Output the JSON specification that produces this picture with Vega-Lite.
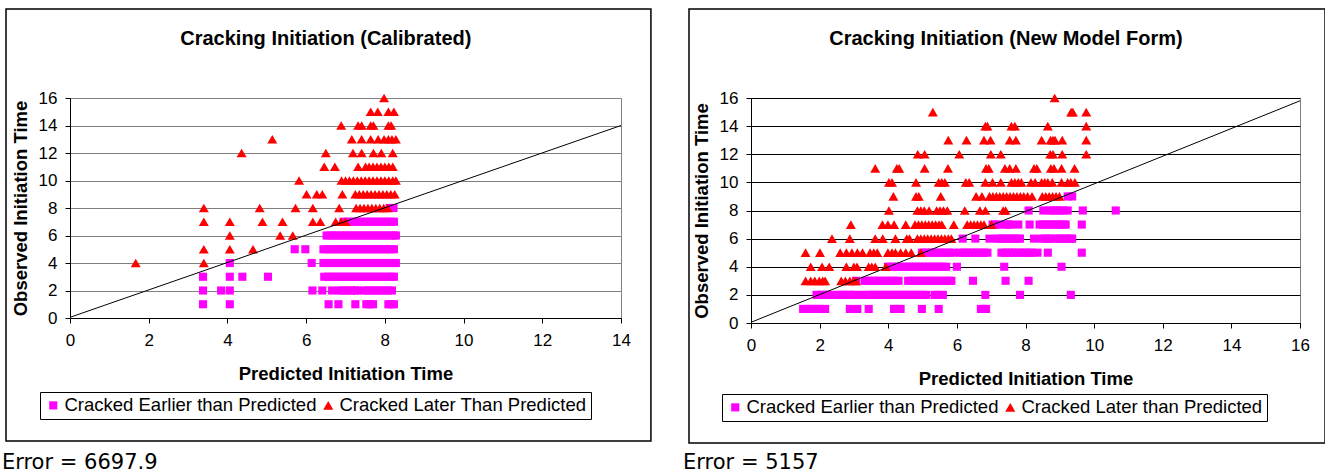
{
  "$schema": "https://vega.github.io/schema/vega-lite/v6.json",
  "padding": {"left": 1, "top": 7, "right": 0, "bottom": 0},
  "background": "white",
  "spacing": 29,
  "datasets": {
    "cal": [
      {"p":8.12,"o":8,"s":"Earlier"},{"p":8.22,"o":8,"s":"Earlier"},
      {"p":6.95,"o":7,"s":"Earlier"},{"p":7.05,"o":7,"s":"Earlier"},{"p":7.15,"o":7,"s":"Earlier"},{"p":7.25,"o":7,"s":"Earlier"},{"p":7.35,"o":7,"s":"Earlier"},{"p":7.45,"o":7,"s":"Earlier"},{"p":7.55,"o":7,"s":"Earlier"},{"p":7.65,"o":7,"s":"Earlier"},{"p":7.75,"o":7,"s":"Earlier"},{"p":7.85,"o":7,"s":"Earlier"},{"p":7.95,"o":7,"s":"Earlier"},{"p":8.05,"o":7,"s":"Earlier"},{"p":8.15,"o":7,"s":"Earlier"},{"p":8.23,"o":7,"s":"Earlier"},
      {"p":6.52,"o":6,"s":"Earlier"},{"p":6.62,"o":6,"s":"Earlier"},{"p":6.72,"o":6,"s":"Earlier"},{"p":6.82,"o":6,"s":"Earlier"},{"p":6.92,"o":6,"s":"Earlier"},{"p":7.02,"o":6,"s":"Earlier"},{"p":7.12,"o":6,"s":"Earlier"},{"p":7.22,"o":6,"s":"Earlier"},{"p":7.32,"o":6,"s":"Earlier"},{"p":7.42,"o":6,"s":"Earlier"},{"p":7.52,"o":6,"s":"Earlier"},{"p":7.62,"o":6,"s":"Earlier"},{"p":7.72,"o":6,"s":"Earlier"},{"p":7.82,"o":6,"s":"Earlier"},{"p":7.92,"o":6,"s":"Earlier"},{"p":8.02,"o":6,"s":"Earlier"},{"p":8.12,"o":6,"s":"Earlier"},{"p":8.22,"o":6,"s":"Earlier"},{"p":8.28,"o":6,"s":"Earlier"},
      {"p":5.71,"o":5,"s":"Earlier"},{"p":5.98,"o":5,"s":"Earlier"},{"p":6.44,"o":5,"s":"Earlier"},{"p":6.54,"o":5,"s":"Earlier"},{"p":6.64,"o":5,"s":"Earlier"},{"p":6.74,"o":5,"s":"Earlier"},{"p":6.84,"o":5,"s":"Earlier"},{"p":6.94,"o":5,"s":"Earlier"},{"p":7.04,"o":5,"s":"Earlier"},{"p":7.14,"o":5,"s":"Earlier"},{"p":7.24,"o":5,"s":"Earlier"},{"p":7.34,"o":5,"s":"Earlier"},{"p":7.44,"o":5,"s":"Earlier"},{"p":7.54,"o":5,"s":"Earlier"},{"p":7.64,"o":5,"s":"Earlier"},{"p":7.74,"o":5,"s":"Earlier"},{"p":7.84,"o":5,"s":"Earlier"},{"p":7.94,"o":5,"s":"Earlier"},{"p":8.04,"o":5,"s":"Earlier"},{"p":8.14,"o":5,"s":"Earlier"},{"p":8.23,"o":5,"s":"Earlier"},
      {"p":4.06,"o":4,"s":"Earlier"},{"p":6.14,"o":4,"s":"Earlier"},{"p":6.44,"o":4,"s":"Earlier"},{"p":6.54,"o":4,"s":"Earlier"},{"p":6.64,"o":4,"s":"Earlier"},{"p":6.74,"o":4,"s":"Earlier"},{"p":6.84,"o":4,"s":"Earlier"},{"p":6.94,"o":4,"s":"Earlier"},{"p":7.04,"o":4,"s":"Earlier"},{"p":7.14,"o":4,"s":"Earlier"},{"p":7.24,"o":4,"s":"Earlier"},{"p":7.34,"o":4,"s":"Earlier"},{"p":7.44,"o":4,"s":"Earlier"},{"p":7.54,"o":4,"s":"Earlier"},{"p":7.64,"o":4,"s":"Earlier"},{"p":7.74,"o":4,"s":"Earlier"},{"p":7.84,"o":4,"s":"Earlier"},{"p":7.94,"o":4,"s":"Earlier"},{"p":8.04,"o":4,"s":"Earlier"},{"p":8.14,"o":4,"s":"Earlier"},{"p":8.24,"o":4,"s":"Earlier"},{"p":8.28,"o":4,"s":"Earlier"},
      {"p":3.38,"o":3,"s":"Earlier"},{"p":4.06,"o":3,"s":"Earlier"},{"p":4.38,"o":3,"s":"Earlier"},{"p":5.03,"o":3,"s":"Earlier"},{"p":6.46,"o":3,"s":"Earlier"},{"p":6.56,"o":3,"s":"Earlier"},{"p":6.66,"o":3,"s":"Earlier"},{"p":6.76,"o":3,"s":"Earlier"},{"p":6.86,"o":3,"s":"Earlier"},{"p":6.96,"o":3,"s":"Earlier"},{"p":7.06,"o":3,"s":"Earlier"},{"p":7.16,"o":3,"s":"Earlier"},{"p":7.26,"o":3,"s":"Earlier"},{"p":7.36,"o":3,"s":"Earlier"},{"p":7.46,"o":3,"s":"Earlier"},{"p":7.56,"o":3,"s":"Earlier"},{"p":7.66,"o":3,"s":"Earlier"},{"p":7.76,"o":3,"s":"Earlier"},{"p":7.86,"o":3,"s":"Earlier"},{"p":7.96,"o":3,"s":"Earlier"},{"p":8.06,"o":3,"s":"Earlier"},{"p":8.16,"o":3,"s":"Earlier"},{"p":8.23,"o":3,"s":"Earlier"},
      {"p":3.38,"o":2,"s":"Earlier"},{"p":3.84,"o":2,"s":"Earlier"},{"p":4.06,"o":2,"s":"Earlier"},{"p":6.16,"o":2,"s":"Earlier"},{"p":6.41,"o":2,"s":"Earlier"},{"p":6.66,"o":2,"s":"Earlier"},{"p":6.84,"o":2,"s":"Earlier"},{"p":6.94,"o":2,"s":"Earlier"},{"p":7.04,"o":2,"s":"Earlier"},{"p":7.14,"o":2,"s":"Earlier"},{"p":7.24,"o":2,"s":"Earlier"},{"p":7.30,"o":2,"s":"Earlier"},{"p":7.48,"o":2,"s":"Earlier"},{"p":7.58,"o":2,"s":"Earlier"},{"p":7.68,"o":2,"s":"Earlier"},{"p":7.78,"o":2,"s":"Earlier"},{"p":7.88,"o":2,"s":"Earlier"},{"p":7.98,"o":2,"s":"Earlier"},{"p":8.08,"o":2,"s":"Earlier"},{"p":8.18,"o":2,"s":"Earlier"},
      {"p":3.38,"o":1,"s":"Earlier"},{"p":4.06,"o":1,"s":"Earlier"},{"p":6.57,"o":1,"s":"Earlier"},{"p":6.82,"o":1,"s":"Earlier"},{"p":7.25,"o":1,"s":"Earlier"},{"p":7.53,"o":1,"s":"Earlier"},{"p":7.62,"o":1,"s":"Earlier"},{"p":7.70,"o":1,"s":"Earlier"},{"p":8.09,"o":1,"s":"Earlier"},{"p":8.16,"o":1,"s":"Earlier"},{"p":8.23,"o":1,"s":"Earlier"},
      {"p":7.98,"o":16,"s":"Later"},
      {"p":7.64,"o":15,"s":"Later"},{"p":7.82,"o":15,"s":"Later"},{"p":8.09,"o":15,"s":"Later"},{"p":8.23,"o":15,"s":"Later"},
      {"p":6.89,"o":14,"s":"Later"},{"p":7.32,"o":14,"s":"Later"},{"p":7.41,"o":14,"s":"Later"},{"p":7.64,"o":14,"s":"Later"},{"p":7.71,"o":14,"s":"Later"},{"p":8.09,"o":14,"s":"Later"},{"p":8.16,"o":14,"s":"Later"},
      {"p":5.14,"o":13,"s":"Later"},{"p":7.16,"o":13,"s":"Later"},{"p":7.41,"o":13,"s":"Later"},{"p":7.64,"o":13,"s":"Later"},{"p":7.83,"o":13,"s":"Later"},{"p":7.98,"o":13,"s":"Later"},{"p":8.09,"o":13,"s":"Later"},{"p":8.18,"o":13,"s":"Later"},{"p":8.28,"o":13,"s":"Later"},
      {"p":4.36,"o":12,"s":"Later"},{"p":6.50,"o":12,"s":"Later"},{"p":7.19,"o":12,"s":"Later"},{"p":7.41,"o":12,"s":"Later"},{"p":7.71,"o":12,"s":"Later"},{"p":7.91,"o":12,"s":"Later"},{"p":8.2,"o":12,"s":"Later"},
      {"p":6.46,"o":11,"s":"Later"},{"p":6.73,"o":11,"s":"Later"},{"p":7.32,"o":11,"s":"Later"},{"p":7.51,"o":11,"s":"Later"},{"p":7.6,"o":11,"s":"Later"},{"p":7.7,"o":11,"s":"Later"},{"p":7.8,"o":11,"s":"Later"},{"p":7.9,"o":11,"s":"Later"},{"p":8.0,"o":11,"s":"Later"},{"p":8.1,"o":11,"s":"Later"},{"p":8.2,"o":11,"s":"Later"},
      {"p":5.82,"o":10,"s":"Later"},{"p":6.9,"o":10,"s":"Later"},{"p":7.0,"o":10,"s":"Later"},{"p":7.1,"o":10,"s":"Later"},{"p":7.2,"o":10,"s":"Later"},{"p":7.3,"o":10,"s":"Later"},{"p":7.4,"o":10,"s":"Later"},{"p":7.5,"o":10,"s":"Later"},{"p":7.6,"o":10,"s":"Later"},{"p":7.7,"o":10,"s":"Later"},{"p":7.8,"o":10,"s":"Later"},{"p":7.9,"o":10,"s":"Later"},{"p":8.0,"o":10,"s":"Later"},{"p":8.1,"o":10,"s":"Later"},{"p":8.2,"o":10,"s":"Later"},{"p":8.28,"o":10,"s":"Later"},
      {"p":6.01,"o":9,"s":"Later"},{"p":6.27,"o":9,"s":"Later"},{"p":6.41,"o":9,"s":"Later"},{"p":6.92,"o":9,"s":"Later"},{"p":7.25,"o":9,"s":"Later"},{"p":7.35,"o":9,"s":"Later"},{"p":7.45,"o":9,"s":"Later"},{"p":7.55,"o":9,"s":"Later"},{"p":7.65,"o":9,"s":"Later"},{"p":7.75,"o":9,"s":"Later"},{"p":7.85,"o":9,"s":"Later"},{"p":7.95,"o":9,"s":"Later"},{"p":8.05,"o":9,"s":"Later"},{"p":8.15,"o":9,"s":"Later"},{"p":8.25,"o":9,"s":"Later"},
      {"p":3.40,"o":8,"s":"Later"},{"p":4.82,"o":8,"s":"Later"},{"p":5.73,"o":8,"s":"Later"},{"p":6.17,"o":8,"s":"Later"},{"p":6.84,"o":8,"s":"Later"},{"p":7.27,"o":8,"s":"Later"},{"p":7.37,"o":8,"s":"Later"},{"p":7.47,"o":8,"s":"Later"},{"p":7.57,"o":8,"s":"Later"},{"p":7.67,"o":8,"s":"Later"},{"p":7.77,"o":8,"s":"Later"},{"p":7.87,"o":8,"s":"Later"},{"p":7.97,"o":8,"s":"Later"},{"p":8.07,"o":8,"s":"Later"},
      {"p":3.40,"o":7,"s":"Later"},{"p":4.06,"o":7,"s":"Later"},{"p":4.89,"o":7,"s":"Later"},{"p":5.40,"o":7,"s":"Later"},{"p":6.17,"o":7,"s":"Later"},{"p":6.36,"o":7,"s":"Later"},{"p":6.75,"o":7,"s":"Later"},{"p":6.89,"o":7,"s":"Later"},{"p":7.0,"o":7,"s":"Later"},
      {"p":4.06,"o":6,"s":"Later"},{"p":5.34,"o":6,"s":"Later"},{"p":5.66,"o":6,"s":"Later"},
      {"p":3.40,"o":5,"s":"Later"},{"p":4.06,"o":5,"s":"Later"},{"p":4.65,"o":5,"s":"Later"},
      {"p":1.67,"o":4,"s":"Later"},{"p":3.40,"o":4,"s":"Later"}
    ],
    "nmf": [
      {"p":9.23,"o":9,"s":"Earlier"},{"p":9.36,"o":9,"s":"Earlier"},
      {"p":8.09,"o":8,"s":"Earlier"},{"p":8.52,"o":8,"s":"Earlier"},{"p":8.70,"o":8,"s":"Earlier"},{"p":8.80,"o":8,"s":"Earlier"},{"p":8.90,"o":8,"s":"Earlier"},{"p":9.00,"o":8,"s":"Earlier"},{"p":9.10,"o":8,"s":"Earlier"},{"p":9.23,"o":8,"s":"Earlier"},{"p":9.67,"o":8,"s":"Earlier"},{"p":10.63,"o":8,"s":"Earlier"},
      {"p":7.04,"o":7,"s":"Earlier"},{"p":7.12,"o":7,"s":"Earlier"},{"p":7.20,"o":7,"s":"Earlier"},{"p":7.42,"o":7,"s":"Earlier"},{"p":7.50,"o":7,"s":"Earlier"},{"p":7.57,"o":7,"s":"Earlier"},{"p":7.79,"o":7,"s":"Earlier"},{"p":8.12,"o":7,"s":"Earlier"},{"p":8.41,"o":7,"s":"Earlier"},{"p":8.51,"o":7,"s":"Earlier"},{"p":8.61,"o":7,"s":"Earlier"},{"p":8.71,"o":7,"s":"Earlier"},{"p":8.81,"o":7,"s":"Earlier"},{"p":8.91,"o":7,"s":"Earlier"},{"p":9.01,"o":7,"s":"Earlier"},{"p":9.11,"o":7,"s":"Earlier"},{"p":9.17,"o":7,"s":"Earlier"},{"p":9.64,"o":7,"s":"Earlier"},
      {"p":6.17,"o":6,"s":"Earlier"},{"p":6.54,"o":6,"s":"Earlier"},{"p":6.95,"o":6,"s":"Earlier"},{"p":7.16,"o":6,"s":"Earlier"},{"p":7.26,"o":6,"s":"Earlier"},{"p":7.36,"o":6,"s":"Earlier"},{"p":7.46,"o":6,"s":"Earlier"},{"p":7.56,"o":6,"s":"Earlier"},{"p":7.66,"o":6,"s":"Earlier"},{"p":7.76,"o":6,"s":"Earlier"},{"p":7.84,"o":6,"s":"Earlier"},{"p":8.25,"o":6,"s":"Earlier"},{"p":8.47,"o":6,"s":"Earlier"},{"p":8.57,"o":6,"s":"Earlier"},{"p":8.67,"o":6,"s":"Earlier"},{"p":8.74,"o":6,"s":"Earlier"},{"p":8.90,"o":6,"s":"Earlier"},{"p":9.00,"o":6,"s":"Earlier"},{"p":9.10,"o":6,"s":"Earlier"},{"p":9.20,"o":6,"s":"Earlier"},{"p":9.30,"o":6,"s":"Earlier"},{"p":9.36,"o":6,"s":"Earlier"},
      {"p":4.98,"o":5,"s":"Earlier"},{"p":5.08,"o":5,"s":"Earlier"},{"p":5.18,"o":5,"s":"Earlier"},{"p":5.28,"o":5,"s":"Earlier"},{"p":5.38,"o":5,"s":"Earlier"},{"p":5.48,"o":5,"s":"Earlier"},{"p":5.58,"o":5,"s":"Earlier"},{"p":5.68,"o":5,"s":"Earlier"},{"p":5.78,"o":5,"s":"Earlier"},{"p":5.90,"o":5,"s":"Earlier"},{"p":6.09,"o":5,"s":"Earlier"},{"p":6.19,"o":5,"s":"Earlier"},{"p":6.29,"o":5,"s":"Earlier"},{"p":6.39,"o":5,"s":"Earlier"},{"p":6.49,"o":5,"s":"Earlier"},{"p":6.59,"o":5,"s":"Earlier"},{"p":6.69,"o":5,"s":"Earlier"},{"p":6.79,"o":5,"s":"Earlier"},{"p":6.89,"o":5,"s":"Earlier"},{"p":7.30,"o":5,"s":"Earlier"},{"p":7.40,"o":5,"s":"Earlier"},{"p":7.50,"o":5,"s":"Earlier"},{"p":7.60,"o":5,"s":"Earlier"},{"p":7.67,"o":5,"s":"Earlier"},{"p":7.81,"o":5,"s":"Earlier"},{"p":7.91,"o":5,"s":"Earlier"},{"p":8.01,"o":5,"s":"Earlier"},{"p":8.11,"o":5,"s":"Earlier"},{"p":8.19,"o":5,"s":"Earlier"},{"p":8.35,"o":5,"s":"Earlier"},{"p":8.65,"o":5,"s":"Earlier"},{"p":9.64,"o":5,"s":"Earlier"},
      {"p":3.99,"o":4,"s":"Earlier"},{"p":4.09,"o":4,"s":"Earlier"},{"p":4.19,"o":4,"s":"Earlier"},{"p":4.29,"o":4,"s":"Earlier"},{"p":4.39,"o":4,"s":"Earlier"},{"p":4.49,"o":4,"s":"Earlier"},{"p":4.59,"o":4,"s":"Earlier"},{"p":4.69,"o":4,"s":"Earlier"},{"p":4.79,"o":4,"s":"Earlier"},{"p":4.89,"o":4,"s":"Earlier"},{"p":4.99,"o":4,"s":"Earlier"},{"p":5.09,"o":4,"s":"Earlier"},{"p":5.19,"o":4,"s":"Earlier"},{"p":5.29,"o":4,"s":"Earlier"},{"p":5.39,"o":4,"s":"Earlier"},{"p":5.49,"o":4,"s":"Earlier"},{"p":5.59,"o":4,"s":"Earlier"},{"p":5.69,"o":4,"s":"Earlier"},{"p":6.00,"o":4,"s":"Earlier"},{"p":7.38,"o":4,"s":"Earlier"},{"p":9.05,"o":4,"s":"Earlier"},
      {"p":3.06,"o":3,"s":"Earlier"},{"p":3.31,"o":3,"s":"Earlier"},{"p":3.41,"o":3,"s":"Earlier"},{"p":3.51,"o":3,"s":"Earlier"},{"p":3.61,"o":3,"s":"Earlier"},{"p":3.71,"o":3,"s":"Earlier"},{"p":3.81,"o":3,"s":"Earlier"},{"p":3.91,"o":3,"s":"Earlier"},{"p":4.01,"o":3,"s":"Earlier"},{"p":4.11,"o":3,"s":"Earlier"},{"p":4.21,"o":3,"s":"Earlier"},{"p":4.30,"o":3,"s":"Earlier"},{"p":4.58,"o":3,"s":"Earlier"},{"p":4.68,"o":3,"s":"Earlier"},{"p":4.78,"o":3,"s":"Earlier"},{"p":4.88,"o":3,"s":"Earlier"},{"p":4.98,"o":3,"s":"Earlier"},{"p":5.08,"o":3,"s":"Earlier"},{"p":5.18,"o":3,"s":"Earlier"},{"p":5.28,"o":3,"s":"Earlier"},{"p":5.38,"o":3,"s":"Earlier"},{"p":5.48,"o":3,"s":"Earlier"},{"p":5.58,"o":3,"s":"Earlier"},{"p":5.68,"o":3,"s":"Earlier"},{"p":5.77,"o":3,"s":"Earlier"},{"p":5.84,"o":3,"s":"Earlier"},{"p":6.47,"o":3,"s":"Earlier"},{"p":7.42,"o":3,"s":"Earlier"},{"p":8.09,"o":3,"s":"Earlier"},
      {"p":1.91,"o":2,"s":"Earlier"},{"p":2.01,"o":2,"s":"Earlier"},{"p":2.11,"o":2,"s":"Earlier"},{"p":2.21,"o":2,"s":"Earlier"},{"p":2.28,"o":2,"s":"Earlier"},{"p":2.51,"o":2,"s":"Earlier"},{"p":2.61,"o":2,"s":"Earlier"},{"p":2.71,"o":2,"s":"Earlier"},{"p":2.81,"o":2,"s":"Earlier"},{"p":2.91,"o":2,"s":"Earlier"},{"p":3.00,"o":2,"s":"Earlier"},{"p":3.22,"o":2,"s":"Earlier"},{"p":3.43,"o":2,"s":"Earlier"},{"p":3.53,"o":2,"s":"Earlier"},{"p":3.63,"o":2,"s":"Earlier"},{"p":3.74,"o":2,"s":"Earlier"},{"p":3.86,"o":2,"s":"Earlier"},{"p":3.96,"o":2,"s":"Earlier"},{"p":4.06,"o":2,"s":"Earlier"},{"p":4.16,"o":2,"s":"Earlier"},{"p":4.26,"o":2,"s":"Earlier"},{"p":4.36,"o":2,"s":"Earlier"},{"p":4.46,"o":2,"s":"Earlier"},{"p":4.56,"o":2,"s":"Earlier"},{"p":4.66,"o":2,"s":"Earlier"},{"p":4.76,"o":2,"s":"Earlier"},{"p":4.86,"o":2,"s":"Earlier"},{"p":4.96,"o":2,"s":"Earlier"},{"p":5.10,"o":2,"s":"Earlier"},{"p":5.35,"o":2,"s":"Earlier"},{"p":5.45,"o":2,"s":"Earlier"},{"p":5.59,"o":2,"s":"Earlier"},{"p":6.83,"o":2,"s":"Earlier"},{"p":7.84,"o":2,"s":"Earlier"},{"p":9.32,"o":2,"s":"Earlier"},
      {"p":1.52,"o":1,"s":"Earlier"},{"p":1.62,"o":1,"s":"Earlier"},{"p":1.72,"o":1,"s":"Earlier"},{"p":1.82,"o":1,"s":"Earlier"},{"p":1.92,"o":1,"s":"Earlier"},{"p":2.02,"o":1,"s":"Earlier"},{"p":2.16,"o":1,"s":"Earlier"},{"p":2.88,"o":1,"s":"Earlier"},{"p":3.10,"o":1,"s":"Earlier"},{"p":3.43,"o":1,"s":"Earlier"},{"p":4.17,"o":1,"s":"Earlier"},{"p":4.27,"o":1,"s":"Earlier"},{"p":4.36,"o":1,"s":"Earlier"},{"p":4.98,"o":1,"s":"Earlier"},{"p":5.47,"o":1,"s":"Earlier"},{"p":6.70,"o":1,"s":"Earlier"},{"p":6.78,"o":1,"s":"Earlier"},{"p":6.85,"o":1,"s":"Earlier"},
      {"p":8.85,"o":16,"s":"Later"},
      {"p":5.30,"o":15,"s":"Later"},{"p":9.33,"o":15,"s":"Later"},{"p":9.38,"o":15,"s":"Later"},{"p":9.77,"o":15,"s":"Later"},
      {"p":6.83,"o":14,"s":"Later"},{"p":6.89,"o":14,"s":"Later"},{"p":7.59,"o":14,"s":"Later"},{"p":7.69,"o":14,"s":"Later"},{"p":8.65,"o":14,"s":"Later"},{"p":9.77,"o":14,"s":"Later"},
      {"p":5.75,"o":13,"s":"Later"},{"p":6.28,"o":13,"s":"Later"},{"p":6.79,"o":13,"s":"Later"},{"p":6.98,"o":13,"s":"Later"},{"p":7.54,"o":13,"s":"Later"},{"p":7.72,"o":13,"s":"Later"},{"p":8.47,"o":13,"s":"Later"},{"p":8.73,"o":13,"s":"Later"},{"p":8.80,"o":13,"s":"Later"},{"p":8.86,"o":13,"s":"Later"},{"p":9.07,"o":13,"s":"Later"},{"p":9.77,"o":13,"s":"Later"},
      {"p":4.86,"o":12,"s":"Later"},{"p":5.06,"o":12,"s":"Later"},{"p":6.07,"o":12,"s":"Later"},{"p":6.99,"o":12,"s":"Later"},{"p":7.28,"o":12,"s":"Later"},{"p":8.72,"o":12,"s":"Later"},{"p":8.80,"o":12,"s":"Later"},{"p":9.07,"o":12,"s":"Later"},{"p":9.77,"o":12,"s":"Later"},
      {"p":3.62,"o":11,"s":"Later"},{"p":4.25,"o":11,"s":"Later"},{"p":4.32,"o":11,"s":"Later"},{"p":5.06,"o":11,"s":"Later"},{"p":5.74,"o":11,"s":"Later"},{"p":6.85,"o":11,"s":"Later"},{"p":6.93,"o":11,"s":"Later"},{"p":7.40,"o":11,"s":"Later"},{"p":7.54,"o":11,"s":"Later"},{"p":7.72,"o":11,"s":"Later"},{"p":8.25,"o":11,"s":"Later"},{"p":8.33,"o":11,"s":"Later"},{"p":8.74,"o":11,"s":"Later"},{"p":8.83,"o":11,"s":"Later"},{"p":9.05,"o":11,"s":"Later"},{"p":9.43,"o":11,"s":"Later"},
      {"p":4.02,"o":10,"s":"Later"},{"p":4.11,"o":10,"s":"Later"},{"p":4.81,"o":10,"s":"Later"},{"p":5.47,"o":10,"s":"Later"},{"p":5.56,"o":10,"s":"Later"},{"p":5.65,"o":10,"s":"Later"},{"p":6.26,"o":10,"s":"Later"},{"p":6.36,"o":10,"s":"Later"},{"p":6.83,"o":10,"s":"Later"},{"p":7.04,"o":10,"s":"Later"},{"p":7.28,"o":10,"s":"Later"},{"p":7.59,"o":10,"s":"Later"},{"p":7.69,"o":10,"s":"Later"},{"p":7.79,"o":10,"s":"Later"},{"p":7.88,"o":10,"s":"Later"},{"p":8.16,"o":10,"s":"Later"},{"p":8.28,"o":10,"s":"Later"},{"p":8.47,"o":10,"s":"Later"},{"p":8.56,"o":10,"s":"Later"},{"p":8.65,"o":10,"s":"Later"},{"p":8.78,"o":10,"s":"Later"},{"p":9.05,"o":10,"s":"Later"},{"p":9.23,"o":10,"s":"Later"},{"p":9.32,"o":10,"s":"Later"},{"p":9.44,"o":10,"s":"Later"},
      {"p":4.15,"o":9,"s":"Later"},{"p":4.81,"o":9,"s":"Later"},{"p":4.89,"o":9,"s":"Later"},{"p":5.53,"o":9,"s":"Later"},{"p":6.56,"o":9,"s":"Later"},{"p":6.73,"o":9,"s":"Later"},{"p":6.95,"o":9,"s":"Later"},{"p":7.05,"o":9,"s":"Later"},{"p":7.15,"o":9,"s":"Later"},{"p":7.25,"o":9,"s":"Later"},{"p":7.35,"o":9,"s":"Later"},{"p":7.45,"o":9,"s":"Later"},{"p":7.55,"o":9,"s":"Later"},{"p":7.65,"o":9,"s":"Later"},{"p":7.75,"o":9,"s":"Later"},{"p":7.85,"o":9,"s":"Later"},{"p":7.95,"o":9,"s":"Later"},{"p":8.06,"o":9,"s":"Later"},{"p":8.19,"o":9,"s":"Later"},{"p":8.49,"o":9,"s":"Later"},{"p":8.59,"o":9,"s":"Later"},{"p":8.69,"o":9,"s":"Later"},{"p":8.79,"o":9,"s":"Later"},{"p":8.89,"o":9,"s":"Later"},{"p":8.99,"o":9,"s":"Later"},
      {"p":4.02,"o":8,"s":"Later"},{"p":4.85,"o":8,"s":"Later"},{"p":4.95,"o":8,"s":"Later"},{"p":5.05,"o":8,"s":"Later"},{"p":5.19,"o":8,"s":"Later"},{"p":5.41,"o":8,"s":"Later"},{"p":5.51,"o":8,"s":"Later"},{"p":5.61,"o":8,"s":"Later"},{"p":5.72,"o":8,"s":"Later"},{"p":6.23,"o":8,"s":"Later"},{"p":6.67,"o":8,"s":"Later"},{"p":6.83,"o":8,"s":"Later"},{"p":7.35,"o":8,"s":"Later"},{"p":7.42,"o":8,"s":"Later"},
      {"p":2.91,"o":7,"s":"Later"},{"p":3.83,"o":7,"s":"Later"},{"p":3.99,"o":7,"s":"Later"},{"p":4.17,"o":7,"s":"Later"},{"p":4.51,"o":7,"s":"Later"},{"p":4.78,"o":7,"s":"Later"},{"p":4.88,"o":7,"s":"Later"},{"p":4.98,"o":7,"s":"Later"},{"p":5.08,"o":7,"s":"Later"},{"p":5.18,"o":7,"s":"Later"},{"p":5.28,"o":7,"s":"Later"},{"p":5.38,"o":7,"s":"Later"},{"p":5.48,"o":7,"s":"Later"},{"p":5.56,"o":7,"s":"Later"},{"p":5.91,"o":7,"s":"Later"},{"p":6.30,"o":7,"s":"Later"},{"p":6.40,"o":7,"s":"Later"},{"p":6.50,"o":7,"s":"Later"},{"p":6.60,"o":7,"s":"Later"},{"p":6.70,"o":7,"s":"Later"},{"p":6.79,"o":7,"s":"Later"},{"p":7.01,"o":7,"s":"Later"},
      {"p":2.36,"o":6,"s":"Later"},{"p":2.88,"o":6,"s":"Later"},{"p":3.62,"o":6,"s":"Later"},{"p":3.84,"o":6,"s":"Later"},{"p":4.21,"o":6,"s":"Later"},{"p":4.54,"o":6,"s":"Later"},{"p":4.62,"o":6,"s":"Later"},{"p":4.85,"o":6,"s":"Later"},{"p":4.95,"o":6,"s":"Later"},{"p":5.05,"o":6,"s":"Later"},{"p":5.15,"o":6,"s":"Later"},{"p":5.25,"o":6,"s":"Later"},{"p":5.35,"o":6,"s":"Later"},{"p":5.45,"o":6,"s":"Later"},{"p":5.55,"o":6,"s":"Later"},{"p":5.65,"o":6,"s":"Later"},{"p":5.75,"o":6,"s":"Later"},{"p":5.84,"o":6,"s":"Later"},
      {"p":1.59,"o":5,"s":"Later"},{"p":2.01,"o":5,"s":"Later"},{"p":2.60,"o":5,"s":"Later"},{"p":2.78,"o":5,"s":"Later"},{"p":2.94,"o":5,"s":"Later"},{"p":3.10,"o":5,"s":"Later"},{"p":3.25,"o":5,"s":"Later"},{"p":3.47,"o":5,"s":"Later"},{"p":3.58,"o":5,"s":"Later"},{"p":3.68,"o":5,"s":"Later"},{"p":3.99,"o":5,"s":"Later"},{"p":4.11,"o":5,"s":"Later"},{"p":4.21,"o":5,"s":"Later"},{"p":4.36,"o":5,"s":"Later"},{"p":4.51,"o":5,"s":"Later"},{"p":4.67,"o":5,"s":"Later"},{"p":4.95,"o":5,"s":"Later"},
      {"p":1.74,"o":4,"s":"Later"},{"p":2.07,"o":4,"s":"Later"},{"p":2.28,"o":4,"s":"Later"},{"p":2.78,"o":4,"s":"Later"},{"p":3.00,"o":4,"s":"Later"},{"p":3.09,"o":4,"s":"Later"},{"p":3.43,"o":4,"s":"Later"},{"p":3.52,"o":4,"s":"Later"},{"p":3.62,"o":4,"s":"Later"},{"p":3.93,"o":4,"s":"Later"},
      {"p":1.59,"o":3,"s":"Later"},{"p":1.74,"o":3,"s":"Later"},{"p":1.86,"o":3,"s":"Later"},{"p":1.99,"o":3,"s":"Later"},{"p":2.09,"o":3,"s":"Later"},{"p":2.16,"o":3,"s":"Later"},{"p":2.63,"o":3,"s":"Later"},{"p":2.75,"o":3,"s":"Later"},{"p":2.88,"o":3,"s":"Later"},{"p":3.00,"o":3,"s":"Later"},{"p":3.06,"o":3,"s":"Later"}
    ]
  },
  "hconcat": [
    {
      "width": 551,
      "height": 220,
      "layer": [
        {
          "data": {"name": "cal"},
          "mark": {"type": "point", "filled": true, "opacity": 1, "strokeWidth": 0},
          "encoding": {
            "x": {"field": "p", "type": "quantitative", "scale": {"domain": [0, 14], "nice": false, "zero": false},
                  "axis": {"title": "Predicted Initiation Time", "values": [0,2,4,6,8,10,12,14], "tickCount": 20, "format": "d", "grid": false, "labelFlush": false, "labelOverlap": false}},
            "y": {"field": "o", "type": "quantitative", "scale": {"domain": [0, 16], "nice": false},
                  "axis": {"title": "Observed Initiation Time", "values": [0,2,4,6,8,10,12,14,16], "tickCount": 20, "format": "d", "grid": true, "gridColor": "#808080", "labelFlush": false, "labelOverlap": false}},
            "color": {"field": "s", "type": "nominal", "scale": {"domain": ["Earlier", "Later"], "range": ["#FF00FF", "#FF0000"]},
                      "legend": {"orient": "none", "legendX": -30, "legendY": 294, "direction": "horizontal", "title": null,
                                 "labelExpr": "datum.label == 'Earlier' ? 'Cracked Earlier than Predicted' : 'Cracked Later Than Predicted'"}},
            "shape": {"field": "s", "type": "nominal", "scale": {"domain": ["Earlier", "Later"], "range": ["square", "triangle-up"]}},
            "size": {"field": "s", "type": "nominal", "scale": {"domain": ["Earlier", "Later"], "range": [66, 100]}, "legend": null}
          }
        },
        {
          "data": {"values": [{"p": 0, "o": 0.05}, {"p": 14, "o": 14}]},
          "mark": {"type": "line", "color": "black", "strokeWidth": 1},
          "encoding": {"x": {"field": "p", "type": "quantitative"}, "y": {"field": "o", "type": "quantitative"}}
        },
        {
          "data": {"values": [{}]},
          "mark": {"type": "rect", "filled": false, "stroke": "black", "strokeWidth": 1.5, "clip": false},
          "encoding": {"x": {"datum": -1.626, "type": "quantitative"}, "x2": {"datum": 14.76}, "y": {"datum": 22.47, "type": "quantitative"}, "y2": {"datum": -8.95}}
        },
        {
          "data": {"values": [{}]},
          "mark": {"type": "text", "text": "Cracking Initiation (Calibrated)", "font": "Liberation Sans", "fontSize": 20, "fontWeight": "bold", "align": "center", "baseline": "middle", "color": "black"},
          "encoding": {"x": {"datum": 6.5, "type": "quantitative"}, "y": {"datum": 20.29, "type": "quantitative"}}
        },
        {
          "data": {"values": [{}]},
          "mark": {"type": "text", "text": "Error = 6697.9", "font": "DejaVu Sans", "fontSize": 21, "align": "left", "baseline": "middle", "color": "black"},
          "encoding": {"x": {"datum": -1.73, "type": "quantitative"}, "y": {"datum": -10.55, "type": "quantitative"}}
        }
      ]
    },
    {
      "width": 549,
      "height": 225,
      "layer": [
        {
          "data": {"name": "nmf"},
          "mark": {"type": "point", "filled": true, "opacity": 1, "strokeWidth": 0},
          "encoding": {
            "x": {"field": "p", "type": "quantitative", "scale": {"domain": [0, 16], "nice": false, "zero": false},
                  "axis": {"title": "Predicted Initiation Time", "values": [0,2,4,6,8,10,12,14,16], "tickCount": 20, "format": "d", "grid": false, "labelFlush": false, "labelOverlap": false}},
            "y": {"field": "o", "type": "quantitative", "scale": {"domain": [0, 16], "nice": false},
                  "axis": {"title": "Observed Initiation Time", "values": [0,2,4,6,8,10,12,14,16], "tickCount": 20, "format": "d", "grid": true, "gridColor": "black", "labelFlush": false, "labelOverlap": false}},
            "color": {"field": "s", "type": "nominal", "scale": {"domain": ["Earlier", "Later"], "range": ["#FF00FF", "#FF0000"]},
                      "legend": {"orient": "none", "legendX": -29, "legendY": 296, "direction": "horizontal", "title": null,
                                 "labelExpr": "datum.label == 'Earlier' ? 'Cracked Earlier than Predicted' : 'Cracked Later than Predicted'"}},
            "shape": {"field": "s", "type": "nominal", "scale": {"domain": ["Earlier", "Later"], "range": ["square", "triangle-up"]}},
            "size": {"field": "s", "type": "nominal", "scale": {"domain": ["Earlier", "Later"], "range": [66, 100]}, "legend": null}
          }
        },
        {
          "data": {"values": [{"p": 0, "o": 0.05}, {"p": 16, "o": 15.8}]},
          "mark": {"type": "line", "color": "black", "strokeWidth": 1},
          "encoding": {"x": {"field": "p", "type": "quantitative"}, "y": {"field": "o", "type": "quantitative"}}
        },
        {
          "data": {"values": [{}]},
          "mark": {"type": "rect", "filled": false, "stroke": "black", "strokeWidth": 1.5, "clip": false},
          "encoding": {"x": {"datum": -1.807, "type": "quantitative"}, "x2": {"datum": 16.73}, "y": {"datum": 22.33, "type": "quantitative"}, "y2": {"datum": -8.53}}
        },
        {
          "data": {"values": [{}]},
          "mark": {"type": "text", "text": "Cracking Initiation (New Model Form)", "font": "Liberation Sans", "fontSize": 20, "fontWeight": "bold", "align": "center", "baseline": "middle", "color": "black"},
          "encoding": {"x": {"datum": 7.43, "type": "quantitative"}, "y": {"datum": 20.2, "type": "quantitative"}}
        },
        {
          "data": {"values": [{}]},
          "mark": {"type": "text", "text": "Error = 5157", "font": "DejaVu Sans", "fontSize": 21, "align": "left", "baseline": "middle", "color": "black"},
          "encoding": {"x": {"datum": -1.98, "type": "quantitative"}, "y": {"datum": -9.96, "type": "quantitative"}}
        }
      ]
    }
  ],
  "resolve": {"scale": {"x": "independent", "y": "independent", "color": "independent", "shape": "independent", "size": "independent"}, "legend": {"color": "independent", "shape": "independent"}},
  "config": {
    "font": "Liberation Sans",
    "view": {"stroke": "#808080", "strokeWidth": 1},
    "axis": {
      "labelFont": "Liberation Sans", "labelFontSize": 17, "labelColor": "black",
      "titleFont": "Liberation Sans", "titleFontSize": 18.5, "titleFontWeight": "bold", "titleColor": "black",
      "domainColor": "black", "domainWidth": 1, "tickColor": "black", "tickSize": 5, "gridWidth": 1, "gridOpacity": 1
    },
    "axisX": {"labelPadding": 9, "titlePadding": 16, "tickCount": 20},
    "axisY": {"labelPadding": 8, "titlePadding": 8, "tickCount": 20},
    "legend": {
      "labelFont": "Liberation Sans", "labelFontSize": 18.5, "labelColor": "black",
      "strokeColor": "black", "strokeWidth": 1, "padding": 4, "symbolSize": 36, "symbolStrokeWidth": 0,
      "labelOffset": 2, "columnPadding": 2, "symbolOpacity": 1, "labelLimit": 400
    }
  }
}
